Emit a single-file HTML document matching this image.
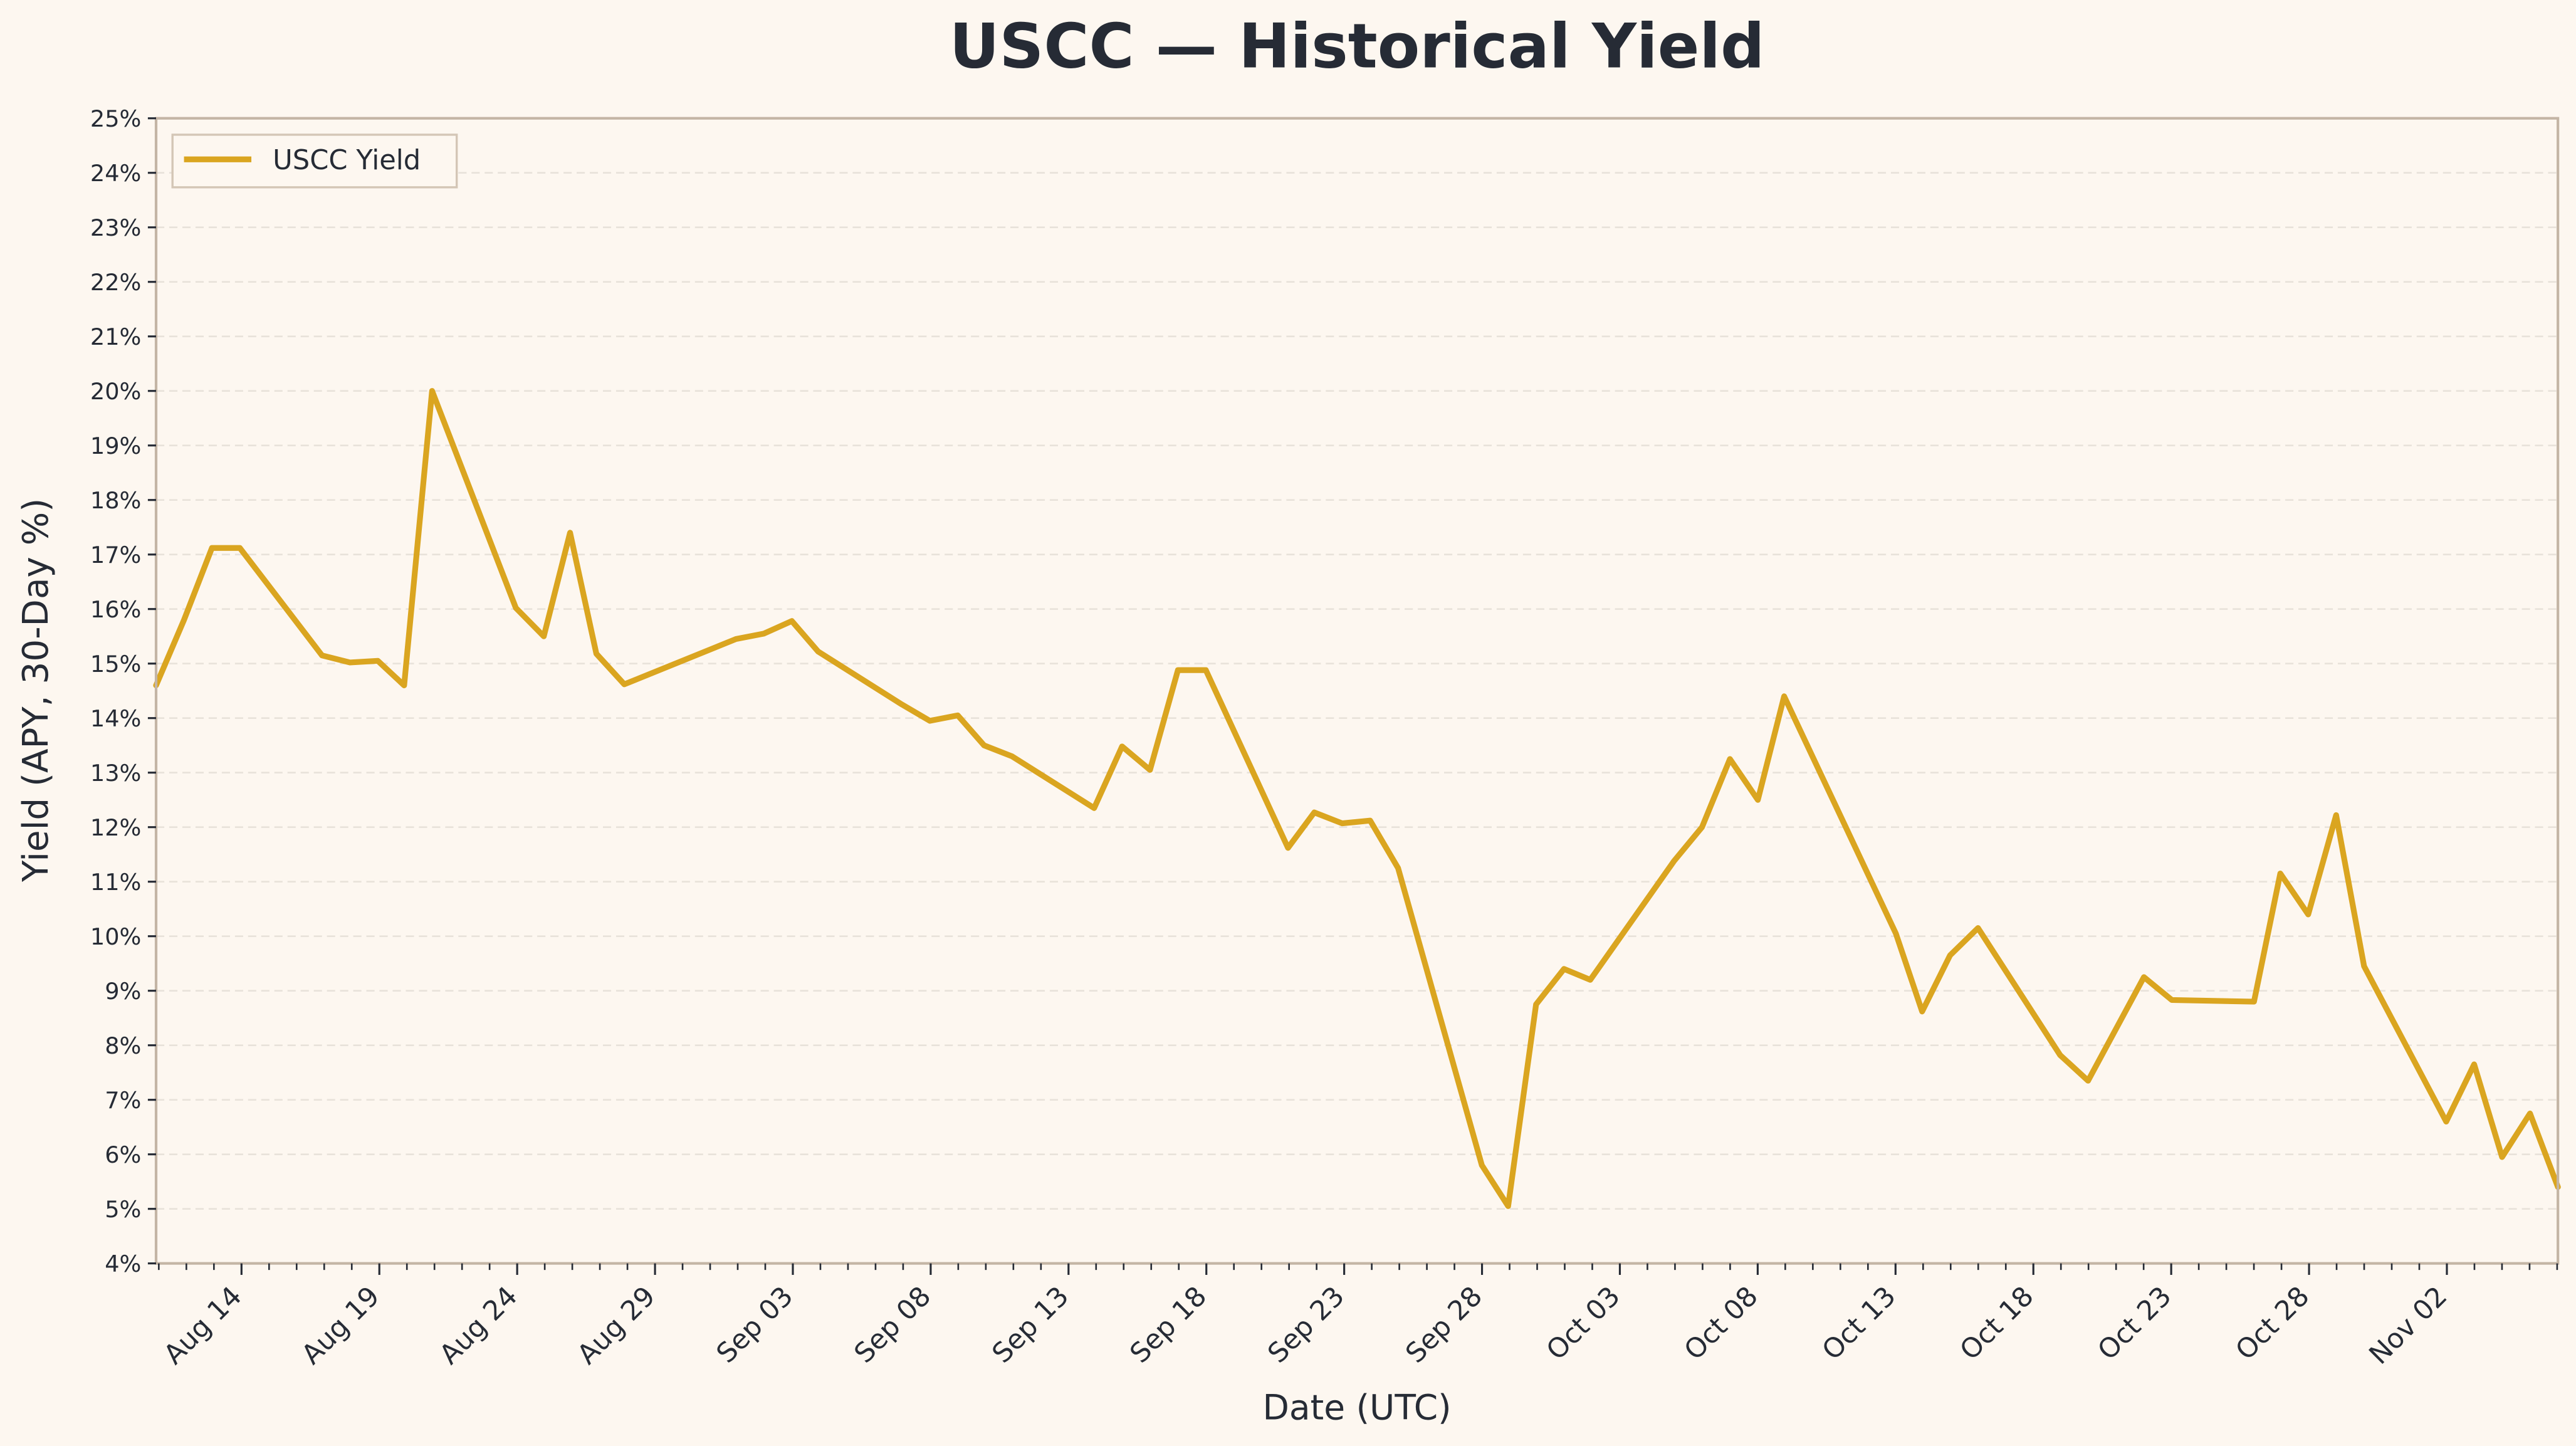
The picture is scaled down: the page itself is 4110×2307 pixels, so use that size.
<!DOCTYPE html>
<html><head><meta charset="utf-8"><style>
html,body{margin:0;padding:0;background:#fdf7f0;}
svg{display:block;}
text{font-family:"DejaVu Sans","Liberation Sans",sans-serif;fill:#262b35;}
</style></head><body>
<svg id="s" width="4110" height="2307" viewBox="0 0 1568 880.15" preserveAspectRatio="none" xmlns="http://www.w3.org/2000/svg">
<rect x="0" y="0" width="1568" height="881" fill="#fdf7f0"/>
<g id="grid"></g>
<polyline id="ln" fill="none" stroke="#daa520" stroke-width="3.5" stroke-linejoin="round" stroke-linecap="round"/>
<rect x="95" y="72" width="1462" height="697" fill="none" stroke="#c4b5a5" stroke-width="1.6"/>
<g id="ticks"></g>
<rect x="105" y="82" width="173" height="32" fill="#fdf7f0" stroke="#d4c6b6" stroke-width="1.3"/>
<line x1="112" y1="97" x2="153" y2="97" stroke="#daa520" stroke-width="3.5"/>
<text x="166" y="103" font-size="16.5">USCC Yield</text>
<text x="826" y="41" font-size="37.5" font-weight="bold" text-anchor="middle">USCC — Historical Yield</text>
<text x="826" y="864" font-size="21" text-anchor="middle">Date (UTC)</text>
<text transform="translate(29,420) rotate(-90)" font-size="21.5" text-anchor="middle">Yield (APY, 30-Day %)</text>
</svg>
<script>
var NS="http://www.w3.org/2000/svg";
function el(p,t,a,txt){var e=document.createElementNS(NS,t);for(var k in a)e.setAttribute(k,a[k]);if(txt)e.textContent=txt;document.getElementById(p).appendChild(e);}
function Y(v){return 72+(25-v)*697/21;}
for(var v=4;v<=25;v++){var y=Y(v);
 if(v>4&&v<25)el("grid","line",{x1:95,x2:1557,y1:y,y2:y,stroke:"#e8e2da","stroke-width":1,"stroke-dasharray":"5,3"});
 el("ticks","line",{x1:90,x2:95,y1:y,y2:y,stroke:"#262b35","stroke-width":1.2});
 el("ticks","text",{x:86,y:y+5,"font-size":14,"text-anchor":"end"},v+"%");}
var labels=["Aug 14","Aug 19","Aug 24","Aug 29","Sep 03","Sep 08","Sep 13","Sep 18","Sep 23","Sep 28","Oct 03","Oct 08","Oct 13","Oct 18","Oct 23","Oct 28","Nov 02"];
var d=16.78;
for(var k=-3;k<=84;k++){var x=147+k*d;if(x<94.5||x>1558)continue;var maj=(k>=0&&k%5==0);
 el("ticks","line",{x1:x,x2:x,y1:769,y2:maj?776:773,stroke:"#262b35","stroke-width":maj?1.2:1});
 if(maj){el("ticks","text",{transform:"translate("+(x+1)+",790) rotate(-45)","font-size":16.5,"text-anchor":"end"},labels[k/5]);}}
var P=[[95,14.6],[112,15.8],[129,17.12],[146,17.12],[196,15.15],[213,15.02],[230,15.05],[246,14.6],[263,20.0],[314,16.02],[331,15.5],[347,17.4],[363,15.18],[380,14.62],[448,15.45],[465,15.55],[482,15.78],[498,15.22],[549,14.25],[566,13.95],[583,14.05],[599,13.5],[616,13.3],[666,12.35],[683,13.48],[700,13.05],[717,14.88],[734,14.88],[784,11.62],[800,12.27],[817,12.07],[834,12.12],[851,11.25],[902,5.8],[918,5.05],[935,8.75],[952,9.4],[968,9.2],[1019,11.38],[1036,12.0],[1053,13.25],[1070,12.5],[1086,14.4],[1154,10.05],[1170,8.62],[1187,9.65],[1204,10.15],[1254,7.82],[1271,7.35],[1305,9.25],[1322,8.83],[1372,8.8],[1388,11.15],[1405,10.4],[1422,12.22],[1439,9.45],[1489,6.6],[1506,7.65],[1523,5.95],[1540,6.75],[1557,5.4]];
document.getElementById("ln").setAttribute("points",P.map(function(p){return p[0]+","+Y(p[1]).toFixed(2);}).join(" "));
</script>
</body></html>
